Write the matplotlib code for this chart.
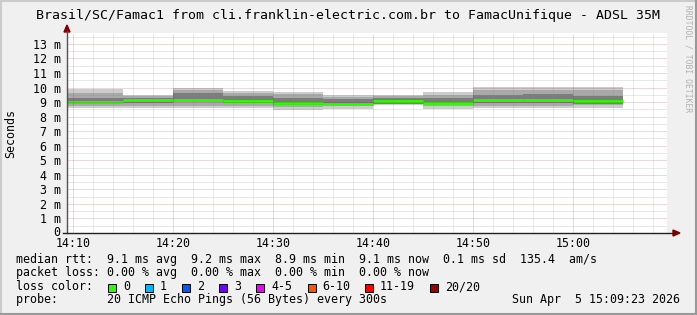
import matplotlib
matplotlib.use('Agg')
import matplotlib.pyplot as plt
import matplotlib.transforms as mtransforms
from matplotlib.lines import Line2D
from matplotlib.patches import Rectangle, Polygon

# bin edges (5 minute steps), first bin is clipped at the left edge
bin_edges = ['14:05', '14:15', '14:20', '14:25', '14:30', '14:35', '14:40',
             '14:45', '14:50', '14:55', '15:00', '15:05']
# median rtt per bin (ms)
median = [9.00, 9.14, 9.11, 9.10, 8.93, 8.90, 9.06, 8.97, 9.12, 9.16, 9.07]
# smoke: outer (min / max), middle and inner ranges (ms)
smoke_min = [8.57, 8.57, 8.57, 8.57, 8.48, 8.55, 8.78, 8.55, 8.57, 8.60, 8.60]
smoke_max = [9.88, 9.51, 9.95, 9.79, 9.69, 9.47, 9.51, 9.67, 10.05, 10.04, 10.04]
mid_lo = [8.70, 8.75, 8.75, 8.75, 8.65, 8.70, 8.85, 8.70, 8.75, 8.75, 8.80]
mid_hi = [9.65, 9.40, 9.80, 9.65, 9.55, 9.35, 9.40, 9.50, 9.85, 9.85, 9.80]
inner_lo = [8.85, 8.95, 9.00, 8.95, 8.80, 8.80, 8.90, 8.85, 8.95, 8.95, 8.90]
inner_hi = [9.25, 9.25, 9.60, 9.45, 9.30, 9.20, 9.25, 9.30, 9.50, 9.55, 9.45]

x_ticks = ['14:10', '14:20', '14:30', '14:40', '14:50', '15:00']
y_ticks = [0, 1, 2, 3, 4, 5, 6, 7, 8, 9, 10, 11, 12, 13]

loss_labels = ['0', '1', '2', '3', '4-5', '6-10', '11-19', '20/20']
loss_colors = ['#26ff00', '#00b8ff', '#0059ff', '#7000ff', '#ee00ff',
               '#ff5500', '#ff0000', '#a10000']
loss_box_x = [108, 145, 182, 219, 256, 307.5, 365, 430]

title = 'Brasil/SC/Famac1 from cli.franklin-electric.com.br to FamacUnifique - ADSL 35M'
line_rtt = 'median rtt:  9.1 ms avg  9.2 ms max  8.9 ms min  9.1 ms now  0.1 ms sd  135.4  am/s'
line_loss = 'packet loss: 0.00 % avg  0.00 % max  0.00 % min  0.00 % now'
line_probe = 'probe:       20 ICMP Echo Pings (56 Bytes) every 300s'
stamp = 'Sun Apr  5 15:09:23 2026'


def mins(t):
    p = [int(v) for v in t.split(':')]
    return p[0] * 60 + p[1] + (p[2] / 60 if len(p) > 2 else 0)


W, H = 697, 315
MONO = 'DejaVu Sans Mono'


def fx(x):
    return x / W


def fy(y):
    return 1 - y / H


fig = plt.figure(figsize=(W / 100, H / 100), dpi=100, facecolor='#f0f0f0')

# frame shading
fig.add_artist(Line2D([0, 1], [fy(0.5), fy(0.5)], color='#cbcbcb', lw=1.5))
fig.add_artist(Line2D([fx(0.5), fx(0.5)], [0, 1], color='#cbcbcb', lw=1.5))
fig.add_artist(Line2D([0, 1], [fy(H - 1), fy(H - 1)], color='#999999', lw=1.5))
fig.add_artist(Line2D([fx(W - 1), fx(W - 1)], [0, 1], color='#999999', lw=1.5))

ax = fig.add_axes([fx(67), fy(233), 600 / W, 200 / H])
ax.set_facecolor('white')
for s in ax.spines.values():
    s.set_visible(False)
ax.set_xlim(mins('14:09:23'), mins('15:09:23'))
ax.set_ylim(0, 13.75)

left = [mins(t) for t in bin_edges[:-1]]
width = [mins(b) - mins(a) for a, b in zip(bin_edges[:-1], bin_edges[1:])]

layers = [(smoke_min, smoke_max, '#cccccc'),
          (mid_lo, mid_hi, '#a9a9a9'),
          (inner_lo, inner_hi, '#7c7c7c')]
for lo, hi, c in layers:
    ax.bar(left, [h - l for l, h in zip(lo, hi)], width=width, bottom=lo,
           align='edge', color=c, linewidth=0, zorder=1)
ax.hlines(median, left, [l + w for l, w in zip(left, width)],
          color=loss_colors[0], lw=2.0, zorder=2)

# grid drawn over the data, like rrdtool
t0 = mins('14:10')
for k in range(0, 31):
    xv = t0 + 2 * k
    major = (k % 5 == 0)
    ax.axvline(xv, color='#821e1e' if major else '#8c8c8c',
               alpha=0.32 if major else 0.4, lw=0.72,
               linestyle=(0, (1, 1)), zorder=3)
for k in range(1, 28):
    yv = k * 0.5
    major = (k % 2 == 0)
    ax.axhline(yv, color='#821e1e' if major else '#8c8c8c',
               alpha=0.32 if major else 0.4, lw=0.72,
               linestyle=(0, (1, 1)), zorder=3)

ax.set_xticks([mins(t) for t in x_ticks])
ax.set_xticklabels(x_ticks, family=MONO, fontsize=8.4)
ax.set_yticks(y_ticks)
ax.set_yticklabels(['0'] + ['%d m' % v for v in y_ticks[1:]], family=MONO, fontsize=8.4)
ax.tick_params(length=0, pad=4.5)
ax.tick_params(axis='x', pad=3.2)

# nudge the "0" label up a little so it clears the first time label
zero_lab = ax.get_yticklabels()[0]
zero_lab.set_transform(zero_lab.get_transform() +
                       mtransforms.ScaledTranslation(0, 2.5 / 100, fig.dpi_scale_trans))

# axes with arrows
fig.add_artist(Line2D([fx(67), fx(67)], [fy(233), fy(31)], color='#505050', lw=1.0))
fig.add_artist(Line2D([fx(63), fx(672)], [fy(233), fy(233)], color='#202020', lw=1.0))
fig.add_artist(Polygon([[fx(64), fy(32)], [fx(70), fy(32)], [fx(67), fy(25)]],
                       closed=True, color='#800000', transform=fig.transFigure))
fig.add_artist(Polygon([[fx(673), fy(230)], [fx(673), fy(236)], [fx(680), fy(233)]],
                       closed=True, color='#800000', transform=fig.transFigure))

fig.text(fx(11), fy(133), 'Seconds', family=MONO, fontsize=8.4,
         rotation=90, ha='center', va='center')
fig.text(fx(348), fy(18.5), title, family=MONO, fontsize=9.5,
         ha='center', va='baseline')
fig.text(fx(688), fy(5), 'RRDTOOL / TOBI OETIKER', family=MONO, fontsize=5.8,
         color='#b0b0b0', rotation=270, ha='center', va='top')

fig.text(fx(16), fy(262.5), line_rtt, family=MONO, fontsize=8.4, va='baseline')
fig.text(fx(16), fy(276), line_loss, family=MONO, fontsize=8.4, va='baseline')
fig.text(fx(16), fy(290), 'loss color:', family=MONO, fontsize=8.4, va='baseline')
for bx, lab, c in zip(loss_box_x, loss_labels, loss_colors):
    fig.add_artist(Rectangle((fx(bx), fy(291.5)), 8 / W, 8 / H, facecolor=c,
                             edgecolor='black', lw=0.7, transform=fig.transFigure))
    fig.text(fx(bx + 15), fy(290), lab, family=MONO, fontsize=8.4, va='baseline')
fig.text(fx(16), fy(303.5), line_probe, family=MONO, fontsize=8.4, va='baseline')
fig.text(fx(680), fy(303.5), stamp, family=MONO, fontsize=8.4, va='baseline', ha='right')

fig.savefig('out.png', dpi=100, facecolor=fig.get_facecolor())
